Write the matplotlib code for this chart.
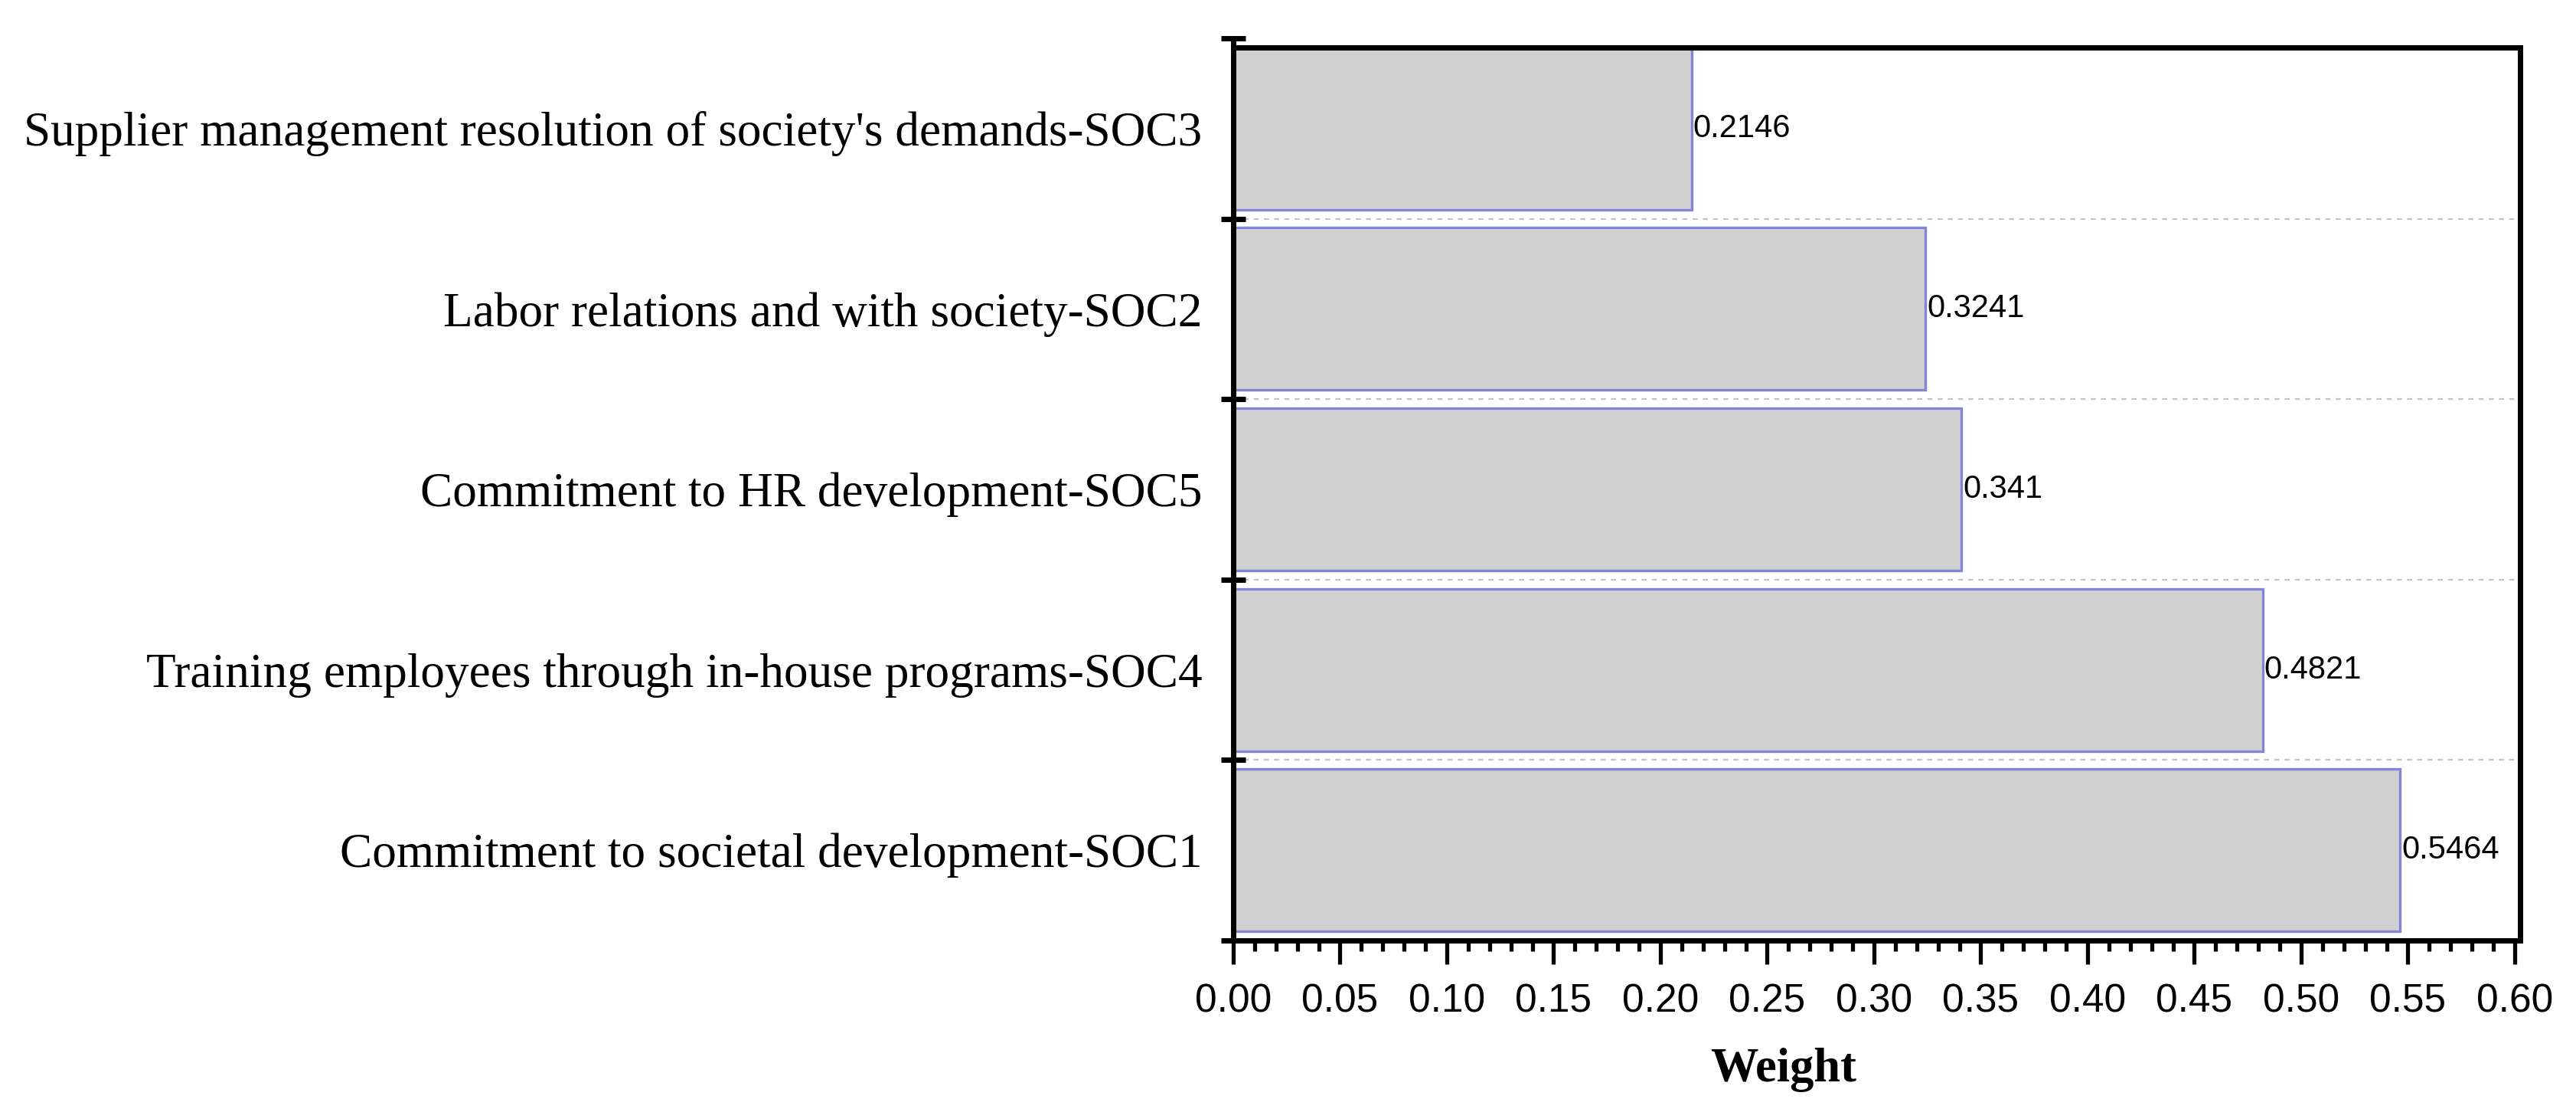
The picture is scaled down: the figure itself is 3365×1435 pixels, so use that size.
import matplotlib
matplotlib.use("Agg")
import matplotlib.pyplot as plt
from matplotlib.ticker import MultipleLocator, FixedLocator

# Data (top to bottom as displayed)
categories = [
    "Supplier management resolution of society's demands-SOC3",
    "Labor relations and with society-SOC2",
    "Commitment to HR development-SOC5",
    "Training employees through in-house programs-SOC4",
    "Commitment to societal development-SOC1",
]
weights = [0.2146, 0.3241, 0.341, 0.4821, 0.5464]
value_labels = ["0.2146", "0.3241", "0.341", "0.4821", "0.5464"]
x_ticks = [0.00, 0.05, 0.10, 0.15, 0.20, 0.25, 0.30, 0.35, 0.40, 0.45, 0.50, 0.55, 0.60]
x_label = "Weight"

W, H = 3366, 1435
fig = plt.figure(figsize=(W / 100, H / 100), dpi=100)
left, right, top, bottom = 1611, 3292, 50, 1228
ax = fig.add_axes([left / W, 1 - bottom / H, (right - left) / W, (bottom - top) / H])

n = len(categories)
ypos = list(range(n - 1, -1, -1))  # first category at top
bar_h = 0.9

ax.set_axisbelow(True)
for b in [i + 0.5 for i in range(n - 1)]:
    ax.axhline(b, color="#c4c4c4", lw=1.6, ls=(0, (3, 3)), zorder=0)

ax.barh(ypos, weights, height=bar_h, color="#d0d0d0", edgecolor="#8484d6",
        linewidth=2.4, zorder=2)

for y, v, lab in zip(ypos, weights, value_labels):
    ax.text(v + 0.0006, y, lab, ha="left", va="center", fontsize=30,
            family="Liberation Sans", color="black", zorder=3)

xmax = 0.6 * (right - left) / (3285 - left)
ax.set_xlim(0, xmax)
ax.set_ylim(-0.5, n - 0.5)

# spines
for s in ["left", "bottom", "top", "right"]:
    ax.spines[s].set_linewidth(5)
    ax.spines[s].set_color("black")
ax.spines["top"].set_position(("data", n - 1 + bar_h / 2))
ax.spines["right"].set_bounds(-0.5, n - 1 + bar_h / 2)

# x ticks
ax.xaxis.set_major_locator(FixedLocator(x_ticks))
ax.xaxis.set_minor_locator(MultipleLocator(0.01))
ax.set_xticklabels([f"{t:.2f}" for t in x_ticks], family="Liberation Sans", fontsize=37)
ax.tick_params(axis="x", which="major", direction="out", length=22, width=3.8, pad=18)
ax.tick_params(axis="x", which="minor", direction="out", length=10, width=3.8)
ax.tick_params(axis="x", which="both", top=False)

# y ticks: labels at centers, ticks at boundaries
ax.set_yticks(ypos)
ax.set_yticklabels(categories, family="Liberation Serif", fontsize=45.5)
ax.yaxis.set_minor_locator(FixedLocator([i - 0.5 for i in range(n + 1)]))
ax.tick_params(axis="y", which="major", length=0, pad=29)
ax.tick_params(axis="y", which="minor", direction="inout", length=23, width=5)
ax.tick_params(axis="y", which="both", right=False)

fig.text(2330 / W, 1 - 1412 / H, x_label, ha="center", va="baseline",
         family="Liberation Serif", fontweight="bold", fontsize=45)

fig.savefig("out.png", dpi=100, facecolor="white")
